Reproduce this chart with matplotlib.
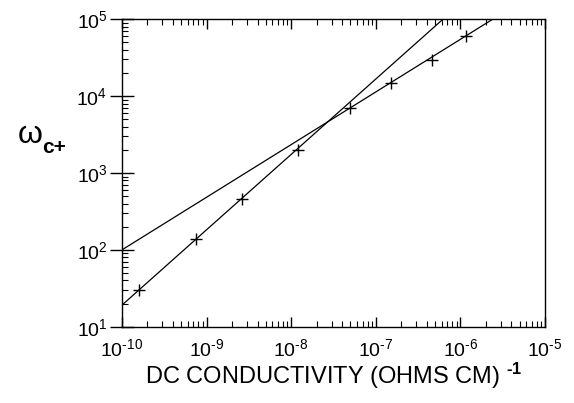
import numpy as np
import matplotlib
matplotlib.use("Agg")
import matplotlib.pyplot as plt
from matplotlib.ticker import LogLocator, NullFormatter, FuncFormatter

plt.rcParams['font.family'] = ['Liberation Sans', 'DejaVu Sans']
plt.rcParams['mathtext.fontset'] = 'custom'
plt.rcParams['mathtext.rm'] = 'Liberation Sans'
plt.rcParams['mathtext.it'] = 'Liberation Sans'
plt.rcParams['mathtext.bf'] = 'Liberation Sans:bold'

# Measured crossover frequency vs. DC conductivity
conductivity = [1.6e-10, 7.5e-10, 2.65e-9, 1.2e-8, 4.95e-8, 1.53e-7, 4.66e-7, 1.16e-6]
omega_c = [30, 137, 455, 1990, 6950, 14960, 29500, 60700]

# Fitted power-law lines (endpoints)
fit_steep_x = [1e-10, 6.2e-7]
fit_steep_y = [19.1, 1e5]
fit_shallow_x = [1e-10, 2.4e-6]
fit_shallow_y = [100, 1e5]


def decade_label(v, pos):
    n = int(round(np.log10(v)))
    exp = str(n).replace('-', '\u2010')
    return '10$^{\\mathregular{' + exp + '}}$'


fig = plt.figure(figsize=(5.74, 4.03), dpi=100)
ax = fig.add_axes([0.2125, 0.1893, 0.737, 0.7628])

ax.plot(fit_steep_x, fit_steep_y, color='black', lw=0.9)
ax.plot(fit_shallow_x, fit_shallow_y, color='black', lw=0.9)
ax.plot(conductivity, omega_c, linestyle='none', marker='+', color='black',
        markersize=8, markeredgewidth=1.0)

ax.set_xscale('log')
ax.set_yscale('log')
ax.set_xlim(1e-10, 1e-5)
ax.set_ylim(10, 1e5)

ax.xaxis.set_major_locator(LogLocator(base=10, numticks=10))
ax.yaxis.set_major_locator(LogLocator(base=10, numticks=10))
ax.xaxis.set_minor_locator(LogLocator(base=10, subs=np.arange(2, 10), numticks=20))
ax.yaxis.set_minor_locator(LogLocator(base=10, subs=np.arange(2, 10), numticks=20))
ax.xaxis.set_major_formatter(FuncFormatter(decade_label))
ax.yaxis.set_major_formatter(FuncFormatter(decade_label))
ax.xaxis.set_minor_formatter(NullFormatter())
ax.yaxis.set_minor_formatter(NullFormatter())

ax.tick_params(axis='y', which='major', direction='inout', length=17, width=1.0,
               labelsize=14, right=False, pad=2)
ax.tick_params(axis='x', which='major', direction='in', length=7, width=1.0,
               labelsize=14, top=True, pad=8)
ax.tick_params(axis='both', which='minor', direction='in', length=4, width=0.8,
               top=True, right=False)

for s in ax.spines.values():
    s.set_linewidth(1.0)

ax.set_xlabel('DC CONDUCTIVITY (OHMS CM) $^{\\mathbf{\u2010 1}}$', fontsize=17, labelpad=1)
fig.text(0.03, 0.665, r'$\omega$', fontsize=23, ha='left', va='center')
fig.text(0.073, 0.633, 'c+', fontsize=15, fontweight='bold', ha='left', va='center')

fig.savefig('out.png', dpi=100)
